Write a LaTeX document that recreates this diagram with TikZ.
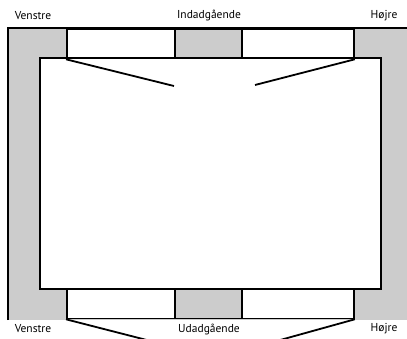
\documentclass[tikz,border=0pt]{standalone}
\usepackage{fontspec}
\setmainfont{PT Sans}
\usetikzlibrary{positioning}
\definecolor{lanegray}{HTML}{CCCCCC}

\begin{document}
\begin{tikzpicture}[x=1pt, y=-1pt, font=\fontsize{11.5}{13}\selectfont,
      cell/.style={draw,line width=1.8pt,fill=white,inner sep=0pt,anchor=north west,minimum height=29.5pt},
      graycell/.style={cell,fill=lanegray}]
    \useasboundingbox (0,0) rectangle (407,339);
    \begin{scope}
    \clip (0,0) rectangle (407,339);
    % outer frame
    \fill[lanegray] (8,28) rectangle (412,320);
    \draw[line width=1.8pt] (8,320) -- (8,28) -- (412,28);
    \node[cell,minimum width=341pt,minimum height=231pt] (hall) at (39,57) {};
    % top strip
    \node[cell,minimum width=108pt] (inL) at (66,28) {};
    \node[graycell,minimum width=67pt] (inM) at (174,28) {};
    \node[cell,minimum width=112pt] (inR) at (241,28) {};
    % bottom strip
    \node[cell,minimum width=108pt] (outL) at (66,288) {};
    \node[graycell,minimum width=67pt] (outM) at (174,288) {};
    \node[cell,minimum width=112pt] (outR) at (241,288) {};
    \coordinate (inTipL) at (174,86);
    \coordinate (inTipR) at (255,85);
    \coordinate (outTipL) at (174,347);
    \coordinate (outTipR) at (255,347);
    \draw[line width=1.8pt] (inL.south west) -- (inTipL);
    \draw[line width=1.8pt] (inR.south east) -- (inTipR);
    \draw[line width=1.8pt] (outL.south west) -- (outTipL);
    \draw[line width=1.8pt] (outR.south east) -- (outTipR);
    \end{scope}
    % labels
    \node (topL) at (33,16) {Venstre};
    \node (topM) at (209,16) {Indadgående};
    \node (topR) at (384,16) {Højre};
    \node (botL) at (33,329) {Venstre};
    \node (botM) at (209,329) {Udadgående};
    \node (botR) at (384,329) {Højre};
  \end{tikzpicture}
\end{document}
